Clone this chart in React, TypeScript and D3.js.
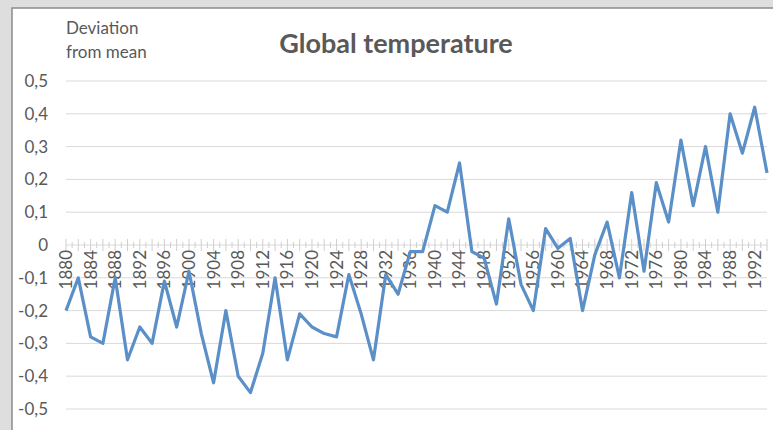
import React from 'react';
import * as d3 from 'd3';

const years = [
  1880, 1882, 1884, 1886, 1888, 1890, 1892, 1894, 1896, 1898,
  1900, 1902, 1904, 1906, 1908, 1910, 1912, 1914, 1916, 1918,
  1920, 1922, 1924, 1926, 1928, 1930, 1932, 1934, 1936, 1938,
  1940, 1942, 1944, 1946, 1948, 1950, 1952, 1954, 1956, 1958,
  1960, 1962, 1964, 1966, 1968, 1970, 1972, 1974, 1976, 1978,
  1980, 1982, 1984, 1986, 1988, 1990, 1992, 1994,
];
const deviation = [
  -0.20, -0.10, -0.28, -0.30, -0.10, -0.35, -0.25, -0.30, -0.11, -0.25,
  -0.08, -0.27, -0.42, -0.20, -0.40, -0.45, -0.33, -0.10, -0.35, -0.21,
  -0.25, -0.27, -0.28, -0.09, -0.21, -0.35, -0.09, -0.15, -0.02, -0.02,
  0.12, 0.10, 0.25, -0.02, -0.04, -0.18, 0.08, -0.12, -0.20, 0.05,
  -0.01, 0.02, -0.20, -0.03, 0.07, -0.10, 0.16, -0.08, 0.19, 0.07,
  0.32, 0.12, 0.30, 0.10, 0.40, 0.28, 0.42, 0.22,
];
const yTicks = [0.5, 0.4, 0.3, 0.2, 0.1, 0, -0.1, -0.2, -0.3, -0.4, -0.5];
const yearLabels = [
  1880, 1884, 1888, 1892, 1896, 1900, 1904, 1908, 1912, 1916, 1920, 1924, 1928, 1932,
  1936, 1940, 1944, 1948, 1952, 1956, 1960, 1964, 1968, 1972, 1976, 1980, 1984, 1988, 1992,
];

const W = 773;
const H = 430;
const FONT = "Lato, 'Open Sans', sans-serif";
const TXT = '#595959';
const GRID = '#d9d9d9';

export default function App() {
  const x = d3.scaleLinear().domain([1880, 1994]).range([66, 767]);
  const y = d3.scaleLinear().domain([-0.5, 0.5]).range([409, 81]);

  const line = d3.line<number>()
    .x((_, i) => x(years[i]))
    .y(d => y(d));

  const fmt = (v: number) => (v === 0 ? '0' : d3.format('.1f')(v).replace('.', ',').replace('−', '-'));

  // one small tick per year on the zero axis, taller on even years
  const allYears = d3.range(1880, 1995);

  return (
    <svg width={W} height={H} style={{ position: 'fixed', left: 0, top: 0 }} fontFamily={FONT}>
      <rect x={0} y={0} width={W} height={H} fill="#dedede" />
      <rect x={12} y={8} width={W} height={H} fill="#ffffff" stroke="#8c8c8c" strokeWidth={1.5} />

      {/* gridlines */}
      {yTicks.filter(t => t !== 0).map(t => (
        <line key={t} x1={66} x2={767} y1={y(t)} y2={y(t)} stroke={GRID} strokeWidth={1} />
      ))}
      {/* y labels */}
      {yTicks.map(t => (
        <text key={'l' + t} x={48} y={y(t)} dy="0.35em" textAnchor="end" fontSize={17} fill={TXT}>
          {fmt(t)}
        </text>
      ))}

      {/* zero axis */}
      <line x1={66} x2={767} y1={y(0)} y2={y(0)} stroke={GRID} strokeWidth={1} />
      {allYears.map(yr => {
        const long = yr % 2 === 0;
        return (
          <line key={'t' + yr} x1={x(yr)} x2={x(yr)}
            y1={y(0) - (long ? 6 : 3)} y2={y(0) + (long ? 6 : 3)}
            stroke="#cfcfcf" strokeWidth={1} />
        );
      })}
      {yearLabels.map(yr => (
        <text key={'x' + yr} transform={`translate(${x(yr)},${y(0) + 5}) rotate(-90)`}
          dy="0.35em" textAnchor="end" fontSize={17} fill={TXT}>
          {yr}
        </text>
      ))}

      {/* series */}
      <path d={line(deviation) || ''} fill="none" stroke="#5b8fc8" strokeWidth={3.2} strokeLinejoin="round" />

      {/* titles */}
      <text x={396} y={53} textAnchor="middle" fontSize={27} fontWeight="bold" fill={TXT}>
        Global temperature
      </text>
      <text x={66} y={34} fontSize={17} fill={TXT}>Deviation</text>
      <text x={66} y={58} fontSize={17} fill={TXT}>from mean</text>
    </svg>
  );
}
